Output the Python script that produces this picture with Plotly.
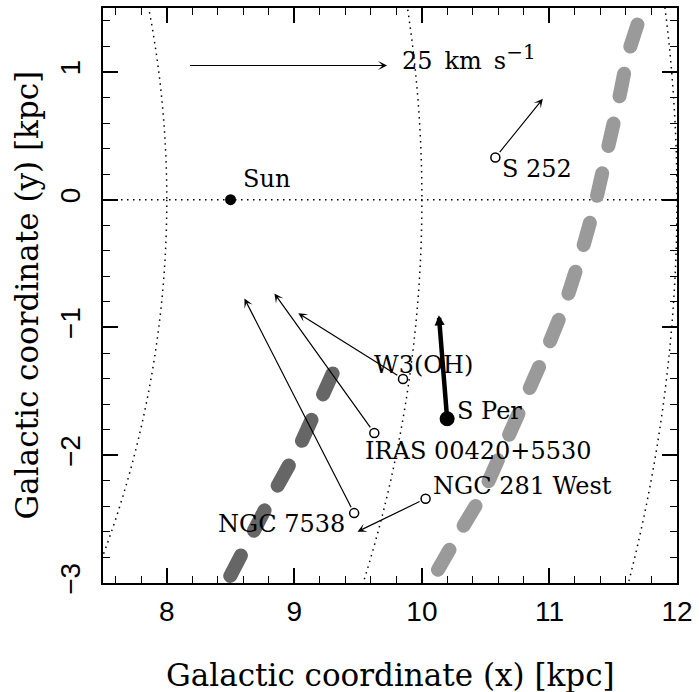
import plotly.graph_objects as go

# ---------------- data ----------------
names = ["S 252", "W3(OH)", "IRAS 00420+5530", "NGC 7538", "NGC 281 West"]
obj_x = [10.576, 9.852, 9.627, 9.469, 10.029]
obj_y = [0.330, -1.403, -1.826, -2.453, -2.340]
tip_x = [10.948, 9.031, 8.844, 8.609, 9.495]
tip_y = [0.790, -0.889, -0.735, -0.774, -2.598]

sper_name = "S Per"
sper_x, sper_y = 10.198, -1.715
sper_tip_x, sper_tip_y = 10.133, -0.904

sun_name = "Sun"
sun_x, sun_y = 8.5, 0.0

scale_label = "25\u2002km\u2002s<sup><span style='font-size:20px'>\u22121</span></sup>"
scale_x0, scale_x1, scale_y = 8.17, 9.727, 1.05

# outer (light grey) arm
arm_out_x = [11.690, 11.672, 11.617, 11.539, 11.461, 11.359, 11.250, 11.125,
             10.977, 10.820, 10.656, 10.484, 10.273, 10.070, 9.980]
arm_out_y = [1.370, 1.320, 1.146, 0.756, 0.359, -0.031, -0.421, -0.810,
             -1.177, -1.551, -1.933, -2.291, -2.642, -2.993, -3.150]
# inner (dark grey) arm
arm_in_x = [9.300, 9.219, 9.039, 8.844, 8.648, 8.469, 8.390]
arm_in_y = [-1.360, -1.551, -1.933, -2.284, -2.642, -2.993, -3.150]

circle_radii = [8, 10, 12]

x_range = [7.5, 12]
y_range = [-3, 1.5]

# ---------------- figure ----------------
SERIF = "DejaVu Serif"
SANS = "Liberation Sans"
ARM_DASH = "23px,28px"

fig = go.Figure()

fig.add_trace(go.Scatter(x=arm_out_x, y=arm_out_y, mode="lines",
                         line=dict(color="#9a9a9a", width=14, dash=ARM_DASH),
                         hoverinfo="skip", showlegend=False))
fig.add_trace(go.Scatter(x=arm_in_x, y=arm_in_y, mode="lines",
                         line=dict(color="#666666", width=14, dash=ARM_DASH),
                         hoverinfo="skip", showlegend=False))

fig.add_trace(go.Scatter(x=obj_x, y=obj_y, mode="markers",
                         marker=dict(symbol="circle-open", size=9, color="black",
                                     line=dict(width=1.5, color="black")),
                         showlegend=False))
fig.add_trace(go.Scatter(x=[sun_x], y=[sun_y], mode="markers",
                         marker=dict(symbol="circle", size=11, color="black"),
                         showlegend=False))
fig.add_trace(go.Scatter(x=[sper_x], y=[sper_y], mode="markers",
                         marker=dict(symbol="circle", size=15, color="black"),
                         showlegend=False))

shapes = []
for r in circle_radii:
    shapes.append(dict(type="circle", xref="x", yref="y", x0=-r, x1=r, y0=-r, y1=r,
                       line=dict(color="black", width=1.5, dash="1.5px,4.5px"),
                       layer="below"))
shapes.append(dict(type="line", xref="x domain", yref="y", x0=0, x1=1, y0=0, y1=0,
                   line=dict(color="black", width=1.5, dash="1.5px,4.5px"),
                   layer="below"))

ann = []
# velocity arrows
for ox, oy, tx, ty in zip(obj_x, obj_y, tip_x, tip_y):
    ann.append(dict(x=tx, y=ty, ax=ox, ay=oy, xref="x", yref="y", axref="x", ayref="y",
                    text="", showarrow=True, arrowhead=3, arrowsize=1.25,
                    arrowwidth=1.2, arrowcolor="black", startstandoff=5))
ann.append(dict(x=sper_tip_x, y=sper_tip_y, ax=sper_x, ay=sper_y, xref="x", yref="y",
                axref="x", ayref="y", text="", showarrow=True, arrowhead=2,
                arrowsize=0.45, arrowwidth=4.5, arrowcolor="black"))
# scale arrow
ann.append(dict(x=scale_x1, y=scale_y, ax=scale_x0, ay=scale_y, xref="x", yref="y",
                axref="x", ayref="y", text="", showarrow=True, arrowhead=3,
                arrowsize=1.25, arrowwidth=1.2, arrowcolor="black"))

lab_font = dict(family=SERIF, size=24, color="black")
# label placement (pixel offsets from the object)
label_style = {
    "S 252": dict(xanchor="left", xshift=5, yshift=-11),
    "W3(OH)": dict(xanchor="center", xshift=20, yshift=14),
    "IRAS 00420+5530": dict(xanchor="left", xshift=-11, yshift=-18),
    "NGC 7538": dict(xanchor="right", xshift=-7, yshift=-11),
    "NGC 281 West": dict(xanchor="left", xshift=5, yshift=13),
}
for nm, ox, oy in zip(names, obj_x, obj_y):
    ann.append(dict(x=ox, y=oy, xref="x", yref="y", text=nm, showarrow=False,
                    yanchor="middle", font=lab_font, **label_style[nm]))
ann.append(dict(x=sper_x, y=sper_y, xref="x", yref="y", text=sper_name, showarrow=False,
                xanchor="left", yanchor="middle", xshift=8, yshift=8, font=lab_font))
ann.append(dict(x=sun_x, y=sun_y, xref="x", yref="y", text=sun_name, showarrow=False,
                xanchor="left", yanchor="middle", xshift=10, yshift=21, font=lab_font))
ann.append(dict(x=scale_x1, y=scale_y, xref="x", yref="y", text=scale_label,
                showarrow=False, xanchor="left", yanchor="bottom", xshift=13, yshift=-11,
                font=lab_font))

# axis titles
title_font = dict(family=SERIF, size=31, color="black")
ann.append(dict(x=0.5, y=0, xref="paper", yref="paper", text="Galactic coordinate (x) [kpc]",
                showarrow=False, xanchor="center", yanchor="middle", yshift=-92,
                font=title_font))
ann.append(dict(x=0, y=0.5, xref="paper", yref="paper", text="Galactic coordinate (y) [kpc]",
                showarrow=False, xanchor="center", yanchor="middle", xshift=-77,
                textangle=-90, font=title_font))

axis_common = dict(showline=True, linecolor="black", linewidth=2, mirror="allticks",
                   ticks="inside", ticklen=15, tickwidth=1.6, tickcolor="black",
                   showgrid=False, zeroline=False, dtick=1, tick0=0,
                   tickfont=dict(family=SANS, size=28, color="black"),
                   minor=dict(ticks="inside", ticklen=7, tickwidth=1.4, tickcolor="black",
                              dtick=0.2, tick0=0, showgrid=False))

fig.update_xaxes(range=x_range, ticklabelstandoff=2, **axis_common)
fig.update_yaxes(range=y_range, tickangle=-90, ticklabelstandoff=10, **axis_common)

fig.update_layout(width=699, height=692, margin=dict(l=103, r=20, t=6, b=109),
                  paper_bgcolor="white", plot_bgcolor="white",
                  shapes=shapes, annotations=ann, showlegend=False)

post = """
var gd = document.getElementById('{plot_id}');
gd.querySelectorAll('.scatterlayer .js-line').forEach(function(p){
  if (parseFloat(p.style.strokeWidth) > 8) { p.style.strokeLinecap = 'round'; }
});
"""
fig.write_html("out.html", post_script=post)
